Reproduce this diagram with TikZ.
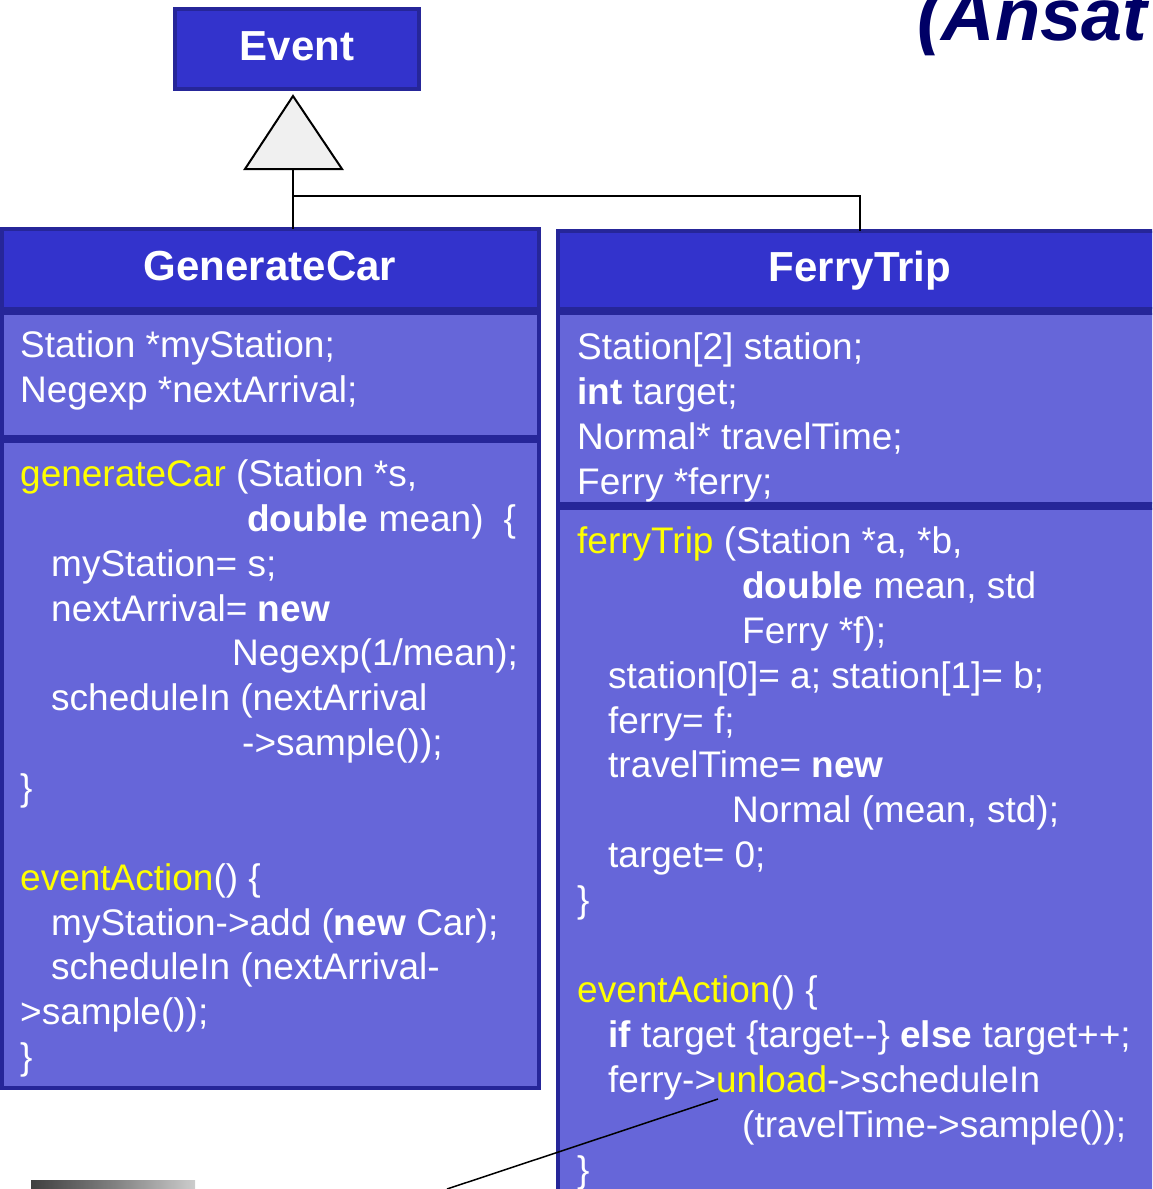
\documentclass[tikz,border=0pt]{standalone}
\usepackage{fontspec}
\setmainfont{Liberation Sans}
\definecolor{hdr}{HTML}{3333CC}
\definecolor{bdy}{HTML}{6666D9}
\definecolor{brd}{HTML}{262699}
\definecolor{ttl}{HTML}{000066}
\definecolor{tri}{HTML}{F0F0F0}
\definecolor{ylw}{HTML}{FFFF00}
\definecolor{gdark}{HTML}{404040}
\definecolor{glight}{HTML}{CCCCCC}
\newcommand{\hlw}[1]{\textcolor{ylw}{#1}}
\begin{document}
\begin{tikzpicture}[x=1pt,y=-1pt,
  hdrbox/.style={draw=brd, fill=hdr, line width=4pt, rectangle, inner sep=0pt, outer sep=0pt, anchor=north west},
  bdybox/.style={draw=brd, fill=bdy, line width=4pt, rectangle, inner sep=0pt, outer sep=0pt, anchor=north west},
  code/.style={font=\fontsize{37}{45}\selectfont, text=white, anchor=base west, inner sep=0pt},
  ttext/.style={font=\fontsize{42}{50}\selectfont\bfseries, text=white, anchor=base, inner sep=0pt},
  link/.style={draw=black, line width=2pt}]
\useasboundingbox (0,0) rectangle (1152,1189);
\clip (0,0) rectangle (1152,1189);

% title fragment
\node[anchor=base west, inner sep=0pt, font=\fontsize{74}{80}\selectfont\bfseries\itshape, text=ttl] (head) at (917,40) {(Ansat};

% Event
\node[hdrbox, minimum width=244pt, minimum height=80pt] (evt) at (175,9) {};
\node[ttext] (evtt) at (297,60) {Event};

% boxes
\node[hdrbox, minimum width=537pt, minimum height=80pt] (gch) at (2,229) {};
\node[bdybox, minimum width=537pt, minimum height=124pt] (gca) at (2,313) {};
\node[bdybox, minimum width=537pt, minimum height=647pt] (gcm) at (2,441) {};
\node[hdrbox, minimum width=605pt, minimum height=78pt] (fth) at (557.5,231) {};
\node[bdybox, minimum width=605pt, minimum height=191pt] (fta) at (557.5,313) {};
\node[bdybox, minimum width=605pt, minimum height=720pt] (ftm) at (557.5,508) {};

% generalisation
\coordinate (apex) at (293,96);
\coordinate (tribase) at (293,169);
\coordinate (junc) at (293,196);
\draw[draw=black, fill=tri, line width=2pt, line join=miter] (apex) -- (342,169) -- (245,169) -- cycle;
\draw[link] (tribase) -- (tribase |- gch.north);
\draw[link] (junc) -| (fth.north);

% headers
\node[ttext] (gct) at (270,280) {GenerateCar};
\node[ttext] (ftt) at (860,281) {FerryTrip};

% GenerateCar attributes
\node[code] (ga1) at (20,357) {Station *myStation;};
\node[code] (ga2) at (20,402) {Negexp *nextArrival;};

% GenerateCar methods
\node[code] (gm0) at (20,486) {\hlw{generateCar} (Station *s,};
\node[code] (gm1) at (247,531) {\textbf{double} mean)\hspace{20pt}\{};
\node[code] (gm2) at (51,576) {myStation= s;};
\node[code] (gm3) at (51,621) {nextArrival= \textbf{new}};
\node[code] (gm4) at (232,665) {Negexp(1/mean);};
\node[code] (gm5) at (51,710) {scheduleIn (nextArrival};
\node[code] (gm6) at (242,755) {->sample());};
\node[code] (gm7) at (20,800) {\}};
\node[code] (gm9) at (20,890) {\hlw{eventAction}() \{};
\node[code] (gm10) at (51,935) {myStation->add (\textbf{new} Car);};
\node[code] (gm11) at (51,979) {scheduleIn (nextArrival-};
\node[code] (gm12) at (20,1024) {>sample());};
\node[code] (gm13) at (20,1069) {\}};

% FerryTrip attributes
\node[code] (fa1) at (577,359) {Station[2] station;};
\node[code] (fa2) at (577,404) {\textbf{int} target;};
\node[code] (fa3) at (577,449) {Normal* travelTime;};
\node[code] (fa4) at (577,494) {Ferry *ferry;};

% FerryTrip methods
\node[code] (fm0) at (577,553) {\hlw{ferryTrip} (Station *a, *b,};
\node[code] (fm1) at (742,598) {\textbf{double} mean, std};
\node[code] (fm2) at (742,643) {Ferry *f);};
\node[code] (fm3) at (608,688) {station[0]= a; station[1]= b;};
\node[code] (fm4) at (608,733) {ferry= f;};
\node[code] (fm5) at (608,777) {travelTime= \textbf{new}};
\node[code] (fm6) at (732,822) {Normal (mean, std);};
\node[code] (fm7) at (608,867) {target= 0;};
\node[code] (fm8) at (577,912) {\}};
\node[code] (fm10) at (577,1002) {\hlw{eventAction}() \{};
\node[code] (fm11) at (608,1047) {\textbf{if} target \{target-{}-\} \textbf{else} target++;};
\node[code] (fm12) at (608,1092) {ferry->\hlw{unload}->scheduleIn};
\node[code] (fm13) at (742,1137) {(travelTime->sample());};
\node[code] (fm14) at (577,1182) {\}};

% pointer line
\coordinate (p1) at (718,1099);
\coordinate (p2) at (447,1189);
\draw[draw=black, line width=1.5pt] (p1) -- (p2);

% gradient bar
\shade[left color=gdark, right color=glight, middle color=gray] (31,1180) rectangle (195,1195);
\end{tikzpicture}
\end{document}
